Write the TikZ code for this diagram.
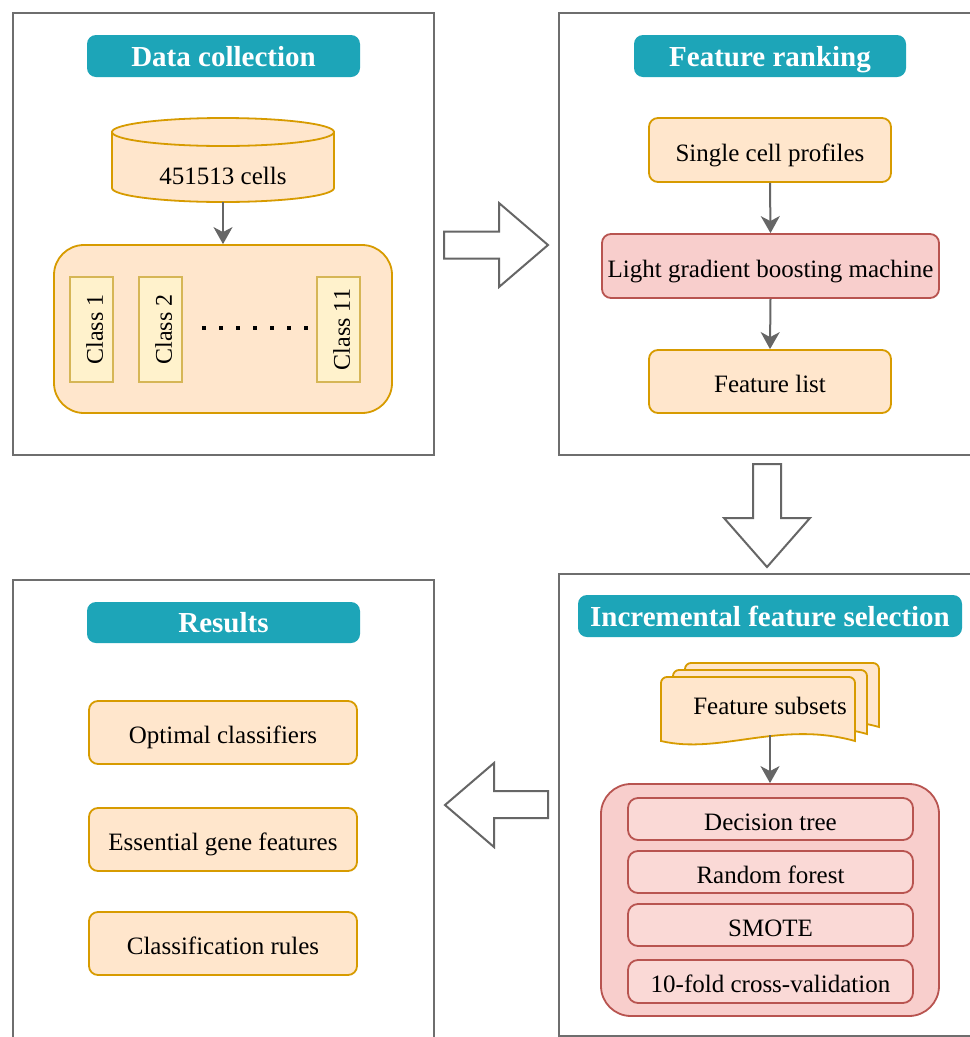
\documentclass[tikz,border=0pt]{standalone}
\usepackage{fontspec}
\setmainfont{Liberation Serif}
\usetikzlibrary{arrows.meta}
\definecolor{tealT}{HTML}{1DA5B8}
\definecolor{panelgray}{HTML}{6E6E6E}
\definecolor{arrowgray}{HTML}{666666}
\definecolor{ofill}{HTML}{FFE6CC}
\definecolor{odraw}{HTML}{D79B00}
\definecolor{yfill}{HTML}{FFF2CC}
\definecolor{ydraw}{HTML}{D6B656}
\definecolor{rfill}{HTML}{F8CECC}
\definecolor{rfillin}{HTML}{FAD9D6}
\definecolor{rdraw}{HTML}{B85450}
\begin{document}
\begin{tikzpicture}[x=1pt,y=-1pt,
  panel/.style={draw=panelgray, line width=2pt, fill=white, inner sep=0pt},
  titlebox/.style={fill=tealT, rounded corners=9pt, text=white, inner sep=0pt,
    text height=20pt, text depth=0pt,
    font=\fontsize{29}{34}\selectfont\bfseries},
  boxtext/.style={inner sep=0pt, text height=22.5pt, text depth=0pt, font=\fontsize{25}{30}\selectfont},
  obox/.style={boxtext, draw=odraw, fill=ofill, line width=1.8pt, rounded corners=9pt},
  rbox/.style={boxtext, draw=rdraw, fill=rfill, line width=1.8pt, rounded corners=9pt},
  rinbox/.style={boxtext, draw=rdraw, fill=rfillin, line width=1.8pt, rounded corners=10pt,
    minimum width=285pt},
  clsbox/.style={draw=ydraw, fill=yfill, line width=1.8pt, inner sep=0pt,
    text height=22.5pt, text depth=0pt,
    font=\fontsize{24}{28}\selectfont, minimum width=105pt, minimum height=43pt, rotate=90},
  plain/.style={inner sep=0pt, font=\fontsize{25}{30}\selectfont},
  conn/.style={draw=arrowgray, line width=2pt, -{Stealth[length=17pt,width=19pt,inset=5pt]}},
  blockarrow/.style={draw=arrowgray, line width=2pt, fill=white, line join=miter},
  docpage/.style={draw=odraw, fill=ofill, line width=1.8pt}
]
\useasboundingbox (0,0) rectangle (970,1037);
\clip (0,0) rectangle (970,1037);
\fill[white] (0,0) rectangle (970,1037);

% ---------- panels ----------
\node[panel, minimum width=421pt, minimum height=442pt] (p1) at (223.5,234) {};
\node[panel, minimum width=441pt, minimum height=442pt] (p2) at (779.5,234) {};
\node[panel, minimum width=421pt, minimum height=490pt] (p3) at (223.5,825) {};
\node[panel, minimum width=441pt, minimum height=462pt] (p4) at (779.5,805) {};

% ---------- titles ----------
\node[titlebox, minimum width=273pt, minimum height=42pt] (t1) at (223.5,56) {Data collection};
\node[titlebox, minimum width=272pt, minimum height=42pt] (t2) at (770,56) {Feature ranking};
\node[titlebox, minimum width=273pt, minimum height=41pt] (t3) at (223.5,622.5) {Results};
\node[titlebox, minimum width=384pt, minimum height=42pt] (t4) at (770,616) {Incremental feature selection};

% ---------- Data collection ----------
\filldraw[draw=odraw, fill=ofill, line width=1.8pt]
  (112,132) -- (112,188) arc[start angle=180, end angle=360, x radius=111pt, y radius=14pt] -- (334,132) -- cycle;
\filldraw[draw=odraw, fill=ofill, line width=1.8pt] (223,132) ellipse [x radius=111pt, y radius=14pt];
\node[minimum width=222pt, minimum height=84pt, inner sep=0pt] (cyl) at (223,160) {};
\node[plain, anchor=base] (cyltxt) at (223,184) {451513 cells};

\node[obox, rounded corners=30pt, minimum width=338pt, minimum height=168pt] (grp) at (223,329) {};
\draw[conn] (cyl.south) -- (grp.north);

\node[clsbox] (c1) at (91.5,329.5) {Class 1};
\node[clsbox] (c2) at (160.5,329.5) {Class 2};
\node[clsbox] (c11) at (338.5,329.5) {Class 11};
\foreach \i in {0,...,6} {
  \fill[black] ({204+17*\i-2.2},325.8) rectangle ({204+17*\i+2.2},330.2);
}

% ---------- Feature ranking ----------
\node[obox, minimum width=242pt, minimum height=64pt] (scp) at (770,150) {Single cell profiles};
\node[rbox, minimum width=337pt, minimum height=64pt] (lgbm) at (770.5,266) {Light gradient boosting machine};
\node[obox, minimum width=242pt, minimum height=63pt] (fl) at (770,381.5) {Feature list};
\draw[conn] (scp.south) -- (lgbm.north);
\draw[conn] (lgbm.south) -- (fl.north);

% ---------- Incremental feature selection ----------
\foreach \s in {24,12,0} {
  \begin{scope}[shift={(\s,-\s*7/12)}]
    \filldraw[docpage] (661,741) [rounded corners=6pt] -- (661,677) -- (855,677) [sharp corners] -- (855,741)
      .. controls (780,720) and (720,755) .. (661,741) -- cycle;
  \end{scope}
}
\node[plain, anchor=base] (fs) at (770,714) {Feature subsets};
\coordinate (fsb) at (770,735);
\node[rbox, rounded corners=30pt, minimum width=338pt, minimum height=232pt] (ml) at (770,900) {};
\draw[conn] (fsb) -- (ml.north);
\node[rinbox, minimum height=42pt] (dt) at (770.5,819) {Decision tree};
\node[rinbox, minimum height=42pt] (rf) at (770.5,872) {Random forest};
\node[rinbox, minimum height=42pt] (sm) at (770.5,925) {SMOTE};
\node[rinbox, minimum height=43pt] (cv) at (770.5,981.5) {10-fold cross-validation};

% ---------- Results ----------
\node[obox, minimum width=268pt, minimum height=63pt] (oc) at (223,732.5) {Optimal classifiers};
\node[obox, minimum width=268pt, minimum height=63pt] (eg) at (223,839.5) {Essential gene features};
\node[obox, minimum width=268pt, minimum height=63pt] (cr) at (223,943.5) {Classification rules};

% ---------- block arrows between panels ----------
\draw[blockarrow] (444,231.5) -- (499,231.5) -- (499,203) -- (548,245) -- (499,287) -- (499,258.5) -- (444,258.5) -- cycle;
\draw[blockarrow] (753,464) -- (781,464) -- (781,518) -- (810,518) -- (767,567) -- (724,518) -- (753,518) -- cycle;
\draw[blockarrow] (548,791) -- (548,818) -- (494,818) -- (494,847) -- (445,805) -- (494,763) -- (494,791) -- cycle;
\end{tikzpicture}
\end{document}
